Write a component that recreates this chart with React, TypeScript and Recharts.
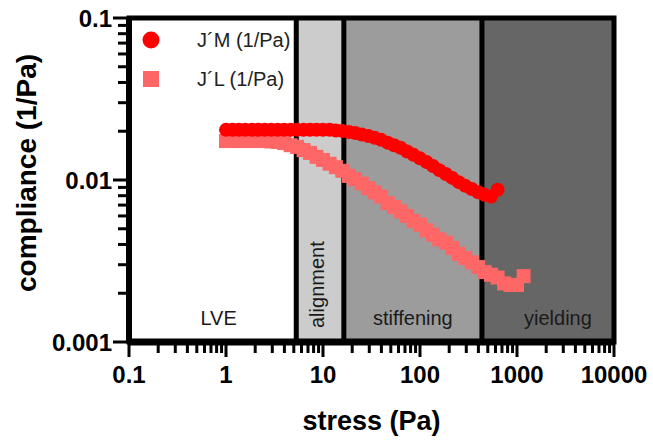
import React from "react";
import {
  ScatterChart,
  Scatter,
  XAxis,
  YAxis,
  ReferenceArea,
  ReferenceLine,
  Label,
  Legend,
} from "recharts";

// J'M (circles)
const stressM = [
  1, 1.17, 1.36, 1.58, 1.85, 2.15, 2.51, 2.93, 3.41, 3.98, 4.64, 5.41, 6.31, 7.36, 8.58, 10, 11.7, 13.6,
  15.8, 18.5, 21.5, 25.1, 29.3, 34.1, 39.8, 46.4, 54.1, 63.1, 73.6, 85.8, 100, 117, 136, 158, 185, 215,
  251, 293, 341, 398, 464, 541, 631,
];
const complianceM = [
  0.0204, 0.0204, 0.0204, 0.0204, 0.0204, 0.0204, 0.0204, 0.0204, 0.0204, 0.0204, 0.0204, 0.0204, 0.0204,
  0.0204, 0.0204, 0.0204, 0.0204, 0.0202, 0.0201, 0.0198, 0.0195, 0.0191, 0.0187, 0.0182, 0.0177, 0.017,
  0.0164, 0.0158, 0.015, 0.0143, 0.0136, 0.0129, 0.0122, 0.0115, 0.0109, 0.0103, 0.0097, 0.0092, 0.0088,
  0.0084, 0.0081, 0.0079, 0.0087,
];

// J'L (squares)
const stressL = [
  1, 1.17, 1.36, 1.58, 1.85, 2.15, 2.51, 2.93, 3.41, 3.98, 4.64, 5.41, 6.31, 7.36, 8.58, 10, 11.7, 13.6,
  15.8, 18.5, 21.5, 25.1, 29.3, 34.1, 39.8, 46.4, 54.1, 63.1, 73.6, 85.8, 100, 117, 136, 158, 185, 215,
  251, 293, 341, 398, 464, 541, 631, 736, 858, 1000, 1170,
];
const complianceL = [
  0.0174, 0.0174, 0.0174, 0.0174, 0.0174, 0.0174, 0.0174, 0.0173, 0.0172, 0.0169, 0.0164, 0.016, 0.0153,
  0.0147, 0.0139, 0.0133, 0.0126, 0.012, 0.0114, 0.0106, 0.0101, 0.0095, 0.0089, 0.0084, 0.0079, 0.0072,
  0.0068, 0.0064, 0.006, 0.0056, 0.0053, 0.0049, 0.0046, 0.0043, 0.0041, 0.0038, 0.0035, 0.0033, 0.0031,
  0.0029, 0.0027, 0.0026, 0.0025, 0.0023, 0.00225, 0.00225, 0.00255,
];

const seriesNames = ["J´M (1/Pa)", "J´L (1/Pa)"];
const seriesColors = ["#ff0000", "#ff6666"];

const xMajorTicks = [0.1, 1, 10, 100, 1000, 10000];
const xTickLabels = ["0.1", "1", "10", "100", "1000", "10000"];
const xMinorTicks = [
  0.2, 0.3, 0.4, 0.5, 0.6, 0.7, 0.8, 0.9, 2, 3, 4, 5, 6, 7, 8, 9, 20, 30, 40, 50, 60, 70, 80, 90, 200, 300,
  400, 500, 600, 700, 800, 900, 2000, 3000, 4000, 5000, 6000, 7000, 8000, 9000,
];
const yMajorTicks = [0.001, 0.01, 0.1];
const yTickLabels = ["0.001", "0.01", "0.1"];
const yMinorTicks = [
  0.002, 0.003, 0.004, 0.005, 0.006, 0.007, 0.008, 0.009, 0.02, 0.03, 0.04, 0.05, 0.06, 0.07, 0.08, 0.09,
];

const regionNames = ["LVE", "alignment", "stiffening", "yielding"];
const regionBounds = [0.1, 5.3, 16.4, 435, 10000];
const regionFills = ["#ffffff", "#cccccc", "#9c9c9c", "#666666"];

const FONT = "'Liberation Sans', Arial, sans-serif";

const dataM = stressM.map((x, i) => ({ x, y: complianceM[i] }));
const dataL = stressL.map((x, i) => ({ x, y: complianceL[i] }));

const XTick = (props: any) => {
  const { x, y, payload } = props;
  const idx = xMajorTicks.indexOf(payload.value);
  const major = idx >= 0;
  return (
    <g>
      <line x1={x} y1={y} x2={x} y2={y + (major ? 15 : 11)} stroke="#000" strokeWidth={3} />
      {major && (
        <text x={x} y={y + 41} textAnchor="middle" fontSize={24} fontWeight="bold" fontFamily={FONT} fill="#000">
          {xTickLabels[idx]}
        </text>
      )}
    </g>
  );
};

const YTick = (props: any) => {
  const { x, y, payload } = props;
  const idx = yMajorTicks.indexOf(payload.value);
  const major = idx >= 0;
  return (
    <g>
      <line x1={x} y1={y} x2={x - (major ? 16 : 11)} y2={y} stroke="#000" strokeWidth={3} />
      {major && (
        <text x={x - 17} y={y} dy="0.36em" textAnchor="end" fontSize={24} fontWeight="bold" fontFamily={FONT} fill="#000">
          {yTickLabels[idx]}
        </text>
      )}
    </g>
  );
};

const yTitle = (props: any) => {
  const { y, height } = props.viewBox;
  const tx = 36;
  const ty = y + height / 2 - 7;
  return (
    <text
      x={tx}
      y={ty}
      transform={`rotate(-90, ${tx}, ${ty})`}
      textAnchor="middle"
      fontSize={28}
      fontWeight="bold"
      fontFamily={FONT}
      fill="#000"
    >
      compliance (1/Pa)
    </text>
  );
};

const regionLabel = (name: string) => (props: any) => {
  const { x, y, width, height } = props.viewBox;
  const bottom = y + height;
  if (name === "alignment") {
    const bx = x + width / 2 + 4;
    const by = bottom - 14;
    return (
      <text x={bx} y={by} transform={`rotate(-90, ${bx}, ${by})`} fontSize={20} fontFamily={FONT} fill="#1a1a1a">
        {name}
      </text>
    );
  }
  const shift = name === "LVE" ? 6 : name === "yielding" ? 10 : 0;
  return (
    <text x={x + width / 2 + shift} y={bottom - 17} textAnchor="middle" fontSize={20} fontFamily={FONT} fill="#1a1a1a">
      {name}
    </text>
  );
};

const renderLegend = () => (
  <svg width={300} height={100} style={{ display: "block" }}>
    <circle cx={151} cy={40} r={8.5} fill={seriesColors[0]} />
    <rect x={143} y={71} width={16} height={16} fill={seriesColors[1]} />
    <text x={197} y={47} fontSize={20} fontFamily={FONT} fill="#222">
      {seriesNames[0]}
    </text>
    <text x={197} y={86} fontSize={20} fontFamily={FONT} fill="#222">
      {seriesNames[1]}
    </text>
  </svg>
);

export default function App() {
  return (
    <div style={{ position: "absolute", left: 0, top: 0 }}>
      <ScatterChart width={653} height={440} margin={{ top: 18, right: 39, bottom: 0, left: 0 }}>
        <XAxis
          dataKey="x"
          type="number"
          scale="log"
          domain={[0.1, 10000]}
          allowDataOverflow
          ticks={[...xMajorTicks, ...xMinorTicks]}
          interval={0}
          tickLine={false}
          tickSize={0}
          tickMargin={0}
          tick={<XTick />}
          axisLine={{ stroke: "#000", strokeWidth: 7 }}
          height={98}
        >
          <Label
            value="stress (Pa)"
            position="insideBottom"
            offset={10}
            style={{ fontSize: 27, fontWeight: "bold", fontFamily: FONT, fill: "#000" }}
          />
        </XAxis>
        <YAxis
          dataKey="y"
          type="number"
          scale="log"
          domain={[0.001, 0.1]}
          allowDataOverflow
          ticks={[...yMajorTicks, ...yMinorTicks]}
          interval={0}
          tickLine={false}
          tickSize={0}
          tickMargin={0}
          tick={<YTick />}
          axisLine={{ stroke: "#000", strokeWidth: 6 }}
          width={129}
        >
          <Label content={yTitle} />
        </YAxis>
        {regionNames.map((name, i) => (
          <ReferenceArea
            key={name}
            x1={regionBounds[i]}
            x2={regionBounds[i + 1]}
            y1={0.001}
            y2={0.1}
            fill={regionFills[i]}
            fillOpacity={1}
            stroke="none"
            label={regionLabel(name)}
          />
        ))}
        {regionBounds.slice(1, -1).map((b) => (
          <ReferenceLine key={b} x={b} stroke="#000" strokeWidth={5} />
        ))}
        <ReferenceArea x1={0.1} x2={10000} y1={0.001} y2={0.1} fill="none" stroke="#000" strokeWidth={5} />
        <Scatter
          name={seriesNames[1]}
          data={dataL}
          fill={seriesColors[1]}
          isAnimationActive={false}
          shape={(p: any) => <rect x={p.cx - 7} y={p.cy - 7} width={14} height={14} fill={seriesColors[1]} />}
        />
        <Scatter
          name={seriesNames[0]}
          data={dataM}
          fill={seriesColors[0]}
          isAnimationActive={false}
          shape={(p: any) => <circle cx={p.cx} cy={p.cy} r={7} fill={seriesColors[0]} />}
        />
        <Legend
          layout="horizontal"
          verticalAlign="middle"
          align="center"
          content={renderLegend}
          wrapperStyle={{ position: "absolute", left: 0, top: 0, width: 300, height: 100 }}
        />
      </ScatterChart>
    </div>
  );
}
